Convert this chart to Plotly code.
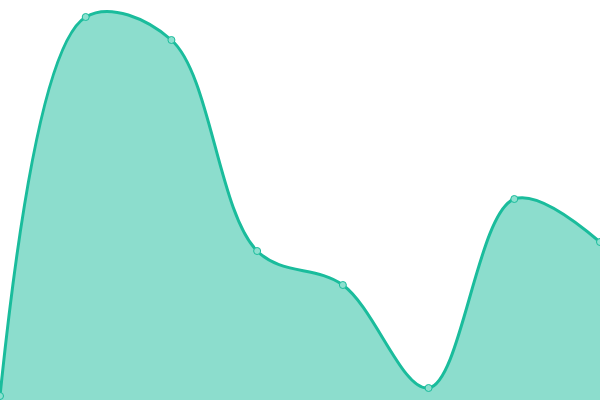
import plotly.graph_objects as go

# evenly spaced categories, heights (axis 0..400)
steps = [0, 1, 2, 3, 4, 5, 6, 7]
values = [4, 383, 360, 149, 115, 12, 201, 158]

line_color = '#1abc9c'
fill_color = 'rgba(26, 188, 156, 0.5)'

fig = go.Figure()
fig.add_trace(go.Scatter(
    x=steps,
    y=values,
    mode='lines+markers',
    line=dict(color=line_color, width=3, shape='spline', smoothing=1),
    marker=dict(size=7, color='#8ce0cf', line=dict(color=line_color, width=1)),
    fill='tozeroy',
    fillcolor=fill_color,
    showlegend=False,
    hoverinfo='skip',
))

fig.update_xaxes(visible=False, range=[0, 7])
fig.update_yaxes(visible=False, range=[0, 400])
fig.update_layout(
    width=600, height=400,
    margin=dict(l=0, r=0, t=0, b=0),
    plot_bgcolor='white', paper_bgcolor='white',
)

# drop the page's default body margin so the chart fills the window
fig.write_html("out.html",
               config={'displayModeBar': False},
               post_script="document.body.style.margin = '0';")
